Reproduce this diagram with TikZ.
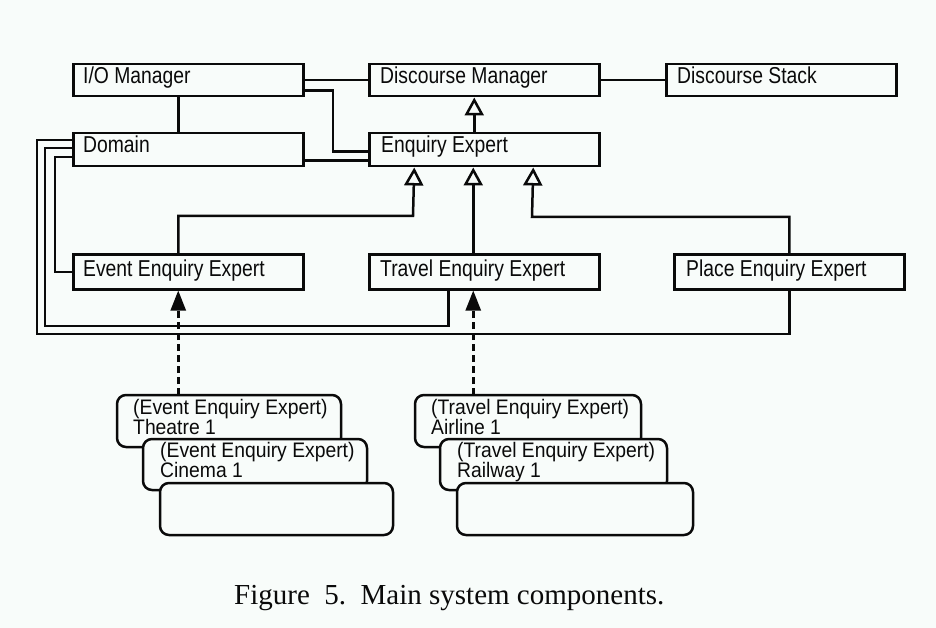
\documentclass[tikz,border=0pt]{standalone}
\usepackage{fontspec}
\usetikzlibrary{arrows.meta}
\newfontfamily\narrowsans[FakeStretch=0.84]{Liberation Sans}
\newfontfamily\instancesans[FakeStretch=0.92]{Liberation Sans}
\newfontfamily\captionserif{Liberation Serif}
\definecolor{paper}{RGB}{248,252,250}
\definecolor{ink}{RGB}{10,10,10}

\tikzset{
  box/.style={draw=ink, line width=2.5pt, fill=paper, minimum width=230pt,
    minimum height=32pt, inner sep=0pt, anchor=north west},
  tallbox/.style={box, minimum height=35pt},
  obj/.style={draw=ink, line width=2.5pt, fill=paper, rounded corners=9pt},
  txt/.style={anchor=base west, inner sep=0pt, text=ink,
    font=\narrowsans\fontsize{23}{18}\selectfont},
  itxt/.style={txt, font=\instancesans\fontsize{21}{18}\selectfont},
  wire/.style={draw=ink, line width=2.5pt},
  gen/.style={wire, -{Triangle[open, length=18pt, width=19pt]}},
  dep/.style={wire, dash pattern=on 7pt off 4pt, -{Triangle[length=20pt, width=15pt]}}
}

\begin{document}
\begin{tikzpicture}[x=1pt, y=-1pt]
  % page
  \fill[paper] (0,0) rectangle (936,628);
  \useasboundingbox (0,0) rectangle (936,628);

  % upper row
  \node[box] (io) at (72,63) {};
  \node[box] (dm) at (368,63) {};
  \node[box] (ds) at (665,63) {};
  \node[box, minimum height=33pt] (dom) at (72,132) {};
  \node[box, minimum height=33pt] (ee) at (368,132) {};
  % specialised experts
  \node[tallbox] (ev) at (72,253) {};
  \node[tallbox] (tr) at (368,253) {};
  \node[tallbox] (pl) at (673,253) {};

  \node[txt] (io-t)  at ([xshift=11pt, yshift=-21pt]io.north west) {I/O Manager};
  \node[txt] (dm-t)  at ([xshift=12pt, yshift=-21pt]dm.north west) {Discourse Manager};
  \node[txt] (ds-t)  at ([xshift=12pt, yshift=-21pt]ds.north west) {Discourse Stack};
  \node[txt] (dom-t) at ([xshift=11pt, yshift=-21pt]dom.north west) {Domain};
  \node[txt] (ee-t)  at ([xshift=13pt, yshift=-21pt]ee.north west) {Enquiry Expert};
  \node[txt] (ev-t)  at ([xshift=11pt, yshift=-23pt]ev.north west) {Event Enquiry Expert};
  \node[txt] (tr-t)  at ([xshift=12pt, yshift=-23pt]tr.north west) {Travel Enquiry Expert};
  \node[txt] (pl-t)  at ([xshift=13pt, yshift=-23pt]pl.north west) {Place Enquiry Expert};

  % routing points
  \coordinate (xo) at (37,0);
  \coordinate (xm) at (45,0);
  \coordinate (xi) at (55,0);
  \coordinate (xj) at (333,0);
  \coordinate (yo) at (0,334);
  \coordinate (ym) at (0,326);
  \coordinate (k1) at (413,216);
  \coordinate (k2) at (532,217);

  % associations
  \draw[wire] (io.east) -- (dm.west);
  \draw[wire] (dm.east) -- (ds.west);
  \draw[wire] ([xshift=-10pt]io.south) -- ([xshift=-10pt]dom.north);
  \coordinate (e1) at ([yshift=16pt]ee.south west);
  \draw[wire] ([yshift=7pt]io.south east) -| (xj |- e1) -- (e1);
  \draw[wire] ([yshift=7pt]dom.south east) -- ([yshift=7pt]ee.south west);
  \draw[wire] ([yshift=-8pt]dom.north west) -| (xo |- yo) -| (pl.south);
  \coordinate (trb) at ([xshift=-36pt]tr.south);
  \draw[wire] ([yshift=-16pt]dom.north west) -| (xm |- ym) -| (trb);
  \draw[wire] ([yshift=-25pt]dom.north west) -| (xi |- ev.west) -- (ev.west);

  % generalisation
  \draw[gen] ([xshift=-10pt]ee.north) -- ([xshift=-10pt]dm.south);
  \draw[gen] ([xshift=-10pt]ev.north) |- (k1) -- ([xshift=-70pt]ee.south);
  \draw[gen] ([xshift=-11pt]tr.north) -- ([xshift=-11pt]ee.south);
  \draw[gen] (pl.north) |- (k2) -- ([xshift=49pt]ee.south);

  % event instances
  \draw[obj] (117,395) rectangle (341,447);
  \coordinate (th) at (229,395);
  \node[itxt] (th-a) at (133,414) {(Event Enquiry Expert)};
  \node[itxt] (th-b) at (133,434) {Theatre 1};
  \draw[obj] (143,439) rectangle (367,490);
  \node[itxt] (ci-a) at (160,457) {(Event Enquiry Expert)};
  \node[itxt] (ci-b) at (160,477) {Cinema 1};
  \draw[obj] (160,483) rectangle (393,535);

  % travel instances
  \draw[obj] (415,395) rectangle (641,447);
  \coordinate (ai) at (528,395);
  \node[itxt] (ai-a) at (431,414) {(Travel Enquiry Expert)};
  \node[itxt] (ai-b) at (431,434) {Airline 1};
  \draw[obj] (440,439) rectangle (667,490);
  \node[itxt] (ra-a) at (457,457) {(Travel Enquiry Expert)};
  \node[itxt] (ra-b) at (457,477) {Railway 1};
  \draw[obj] (457,483) rectangle (693,535);

  % instance-of links
  \coordinate (evs) at ([xshift=-10pt]ev.south);
  \coordinate (trs) at ([xshift=-11pt]tr.south);
  \draw[dep] (evs |- th) -- (evs);
  \draw[dep] (trs |- ai) -- (trs);

  % caption
  \node[anchor=base west, inner sep=0pt, text=ink,
        font=\captionserif\fontsize{29}{31}\selectfont] (cap) at (234,604)
        {Figure\ \ 5.\ \ Main system components.};
\end{tikzpicture}
\end{document}
